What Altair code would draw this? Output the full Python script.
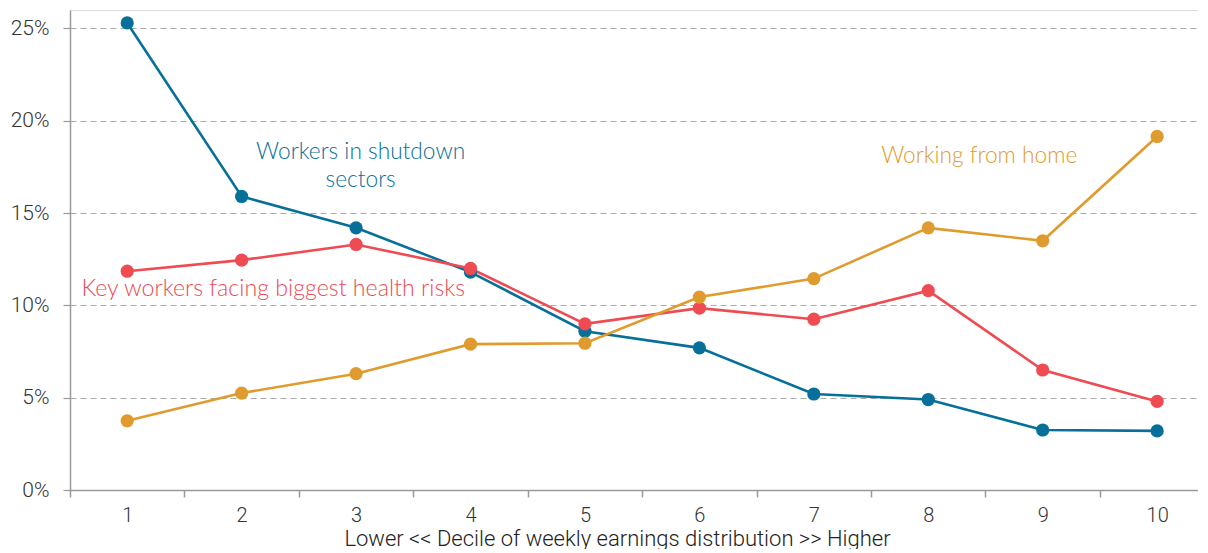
import altair as alt
import pandas as pd

deciles = [1, 2, 3, 4, 5, 6, 7, 8, 9, 10]
shutdown = [25.3, 15.9, 14.2, 11.8, 8.6, 7.7, 5.2, 4.9, 3.25, 3.2]
key_workers = [11.85, 12.45, 13.3, 12.0, 9.0, 9.85, 9.25, 10.8, 6.5, 4.8]
home = [3.75, 5.25, 6.3, 7.9, 7.95, 10.45, 11.45, 14.2, 13.5, 19.15]

series_names = ["Workers in shutdown sectors", "Key workers facing biggest health risks", "Working from home"]
series_colors = ["#07709a", "#ee4b52", "#e09b2e"]

rows = []
for name, vals in zip(series_names, [shutdown, key_workers, home]):
    for d, v in zip(deciles, vals):
        rows.append({"decile": d, "value": v, "series": name})
df = pd.DataFrame(rows)

ann_text = [["Workers in shutdown", "sectors"], ["Key workers facing biggest health risks"], ["Working from home"]]
ann_series = series_names
ann_x = [3.04, 0.60, 8.445]
ann_y = [18.33, 10.88, 18.07]
ann_align = ["center", "left", "center"]
ann_size = [22.7, 23.2, 22.7]

x_ticks = [0.5 + i * 0.5 for i in range(20)]
y_ticks = [0, 5, 10, 15, 20, 25]

color_scale = alt.Scale(domain=series_names, range=series_colors)

x_enc = alt.X(
    "decile:Q",
    scale=alt.Scale(domain=[0.5, 10.357], nice=False, zero=False),
    axis=alt.Axis(
        values=x_ticks,
        labelExpr="datum.value % 1 == 0 ? format(datum.value, 'd') : ''",
        tickColor={"condition": {"test": "datum.value % 1 == 0", "value": "transparent"}, "value": "#9a9a9a"},
        grid=False,
        tickSize=7,
        tickWidth=1.5,
        labelPadding=8,
        labelFontSize=20,
        labelFont="Roboto",
        labelFontWeight=300,
        labelColor="#333333",
        domainColor="#9a9a9a",
        domainWidth=1.5,
        title="Lower << Decile of weekly earnings distribution >> Higher",
        titleFontSize=22,
        titleFont="Roboto",
        titleFontWeight=300,
        titleColor="#222222",
        titleX=547,
        titleAlign="center",
        titlePadding=3,
    ),
)

y_enc = alt.Y(
    "value:Q",
    scale=alt.Scale(domain=[0, 26], nice=False),
    axis=alt.Axis(
        values=y_ticks,
        labelExpr="datum.value + '%'",
        grid=True,
        gridDash=[6, 4],
        gridColor="#aaaaaa",
        gridWidth=1.2,
        tickSize=7,
        tickColor="#9a9a9a",
        tickWidth=1.2,
        labelPadding=14,
        labelFontSize=21,
        labelFont="Roboto",
        labelFontWeight=300,
        labelColor="#333333",
        domainColor="#9a9a9a",
        domainWidth=1.5,
        title=None,
    ),
)

base = alt.Chart(df).encode(
    x=x_enc,
    y=y_enc,
    color=alt.Color("series:N", scale=color_scale, legend=None),
    order=alt.Order("decile:Q"),
)

lines = base.mark_line(strokeWidth=2.6)
points = base.mark_point(filled=True, size=175, opacity=1)

ann_df = pd.DataFrame({
    "text": ann_text,
    "series": ann_series,
    "x": ann_x,
    "y": ann_y,
})

def ann_layer(i):
    sub = ann_df.iloc[[i]]
    return alt.Chart(sub).mark_text(
        align=ann_align[i], baseline="middle", fontSize=ann_size[i], font="Lato", fontWeight=300, lineHeight=28
    ).encode(
        x=alt.X("x:Q"),
        y=alt.Y("y:Q"),
        text="text",
        color=alt.Color("series:N", scale=color_scale, legend=None),
    )

chart = alt.layer(lines, points, ann_layer(0), ann_layer(1), ann_layer(2)).properties(
    width=1128,
    height=480,
    padding={"left": 2, "top": 2, "right": 0, "bottom": 0},
).configure_view(stroke=None).configure(background="white")

chart.save("out.html", embed_options={"renderer": "svg", "actions": False})
